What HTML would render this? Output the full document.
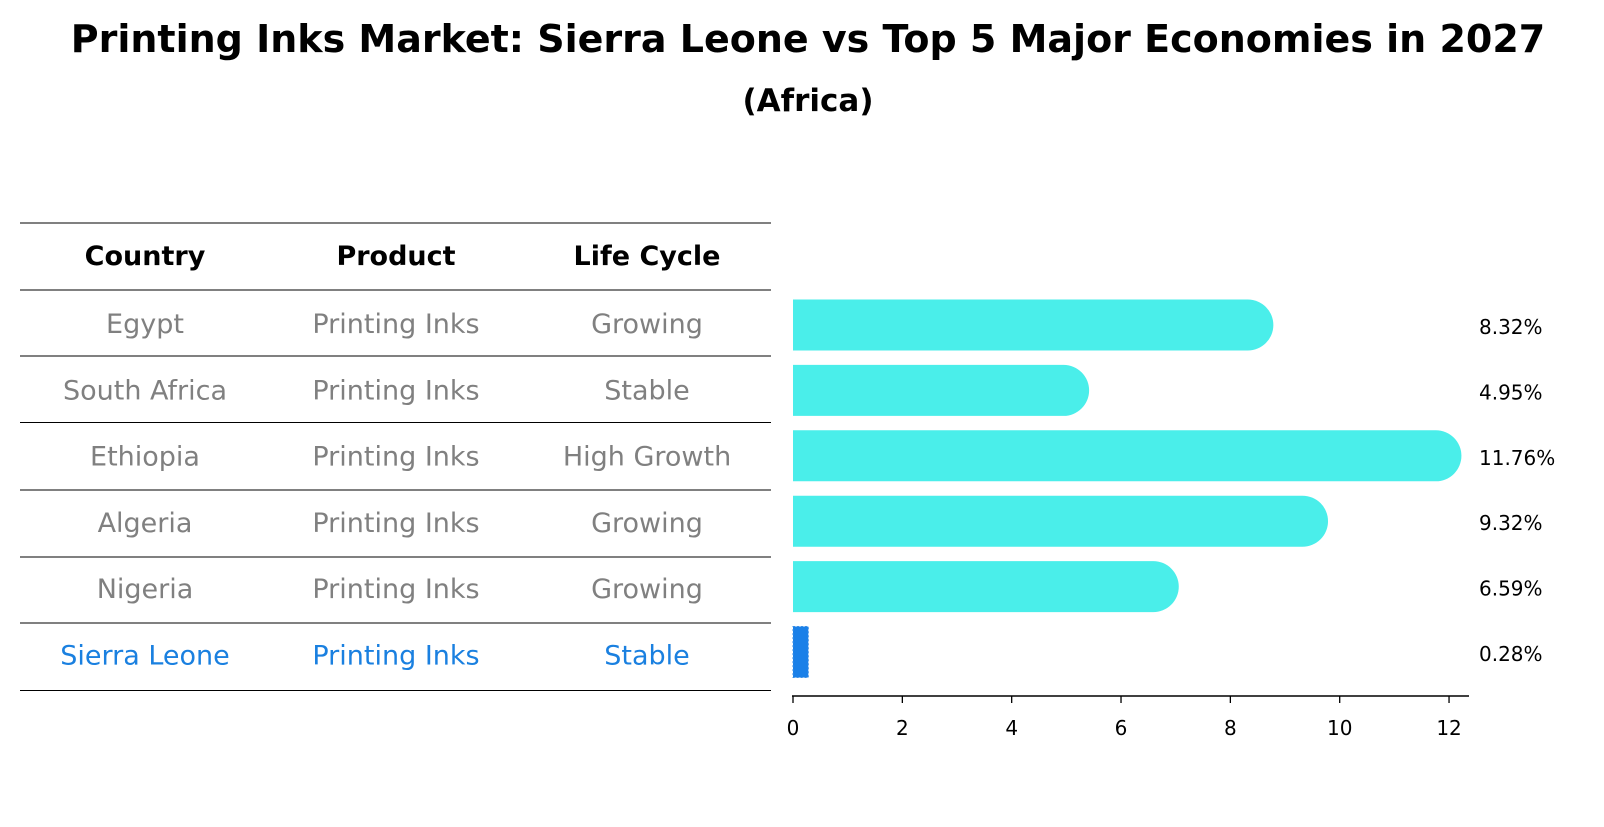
<!DOCTYPE html>
<html><head><meta charset="utf-8"><style>
body{margin:0;background:#fff;width:1604px;height:823px;overflow:hidden;font-family:"DejaVu Sans","Liberation Sans",sans-serif}
</style></head><body>
<svg id="c" width="1604" height="823" xmlns="http://www.w3.org/2000/svg" font-family="DejaVu Sans, Liberation Sans, sans-serif">
<text x="808" y="52" text-anchor="middle" font-size="38" font-weight="bold">Printing Inks Market: Sierra Leone vs Top 5 Major Economies in 2027</text>
<text x="808" y="111" text-anchor="middle" font-size="31" font-weight="bold">(Africa)</text>
<g id="tbl"></g>
<g id="bars"></g>
</svg>
<script>
const countries=["Egypt","South Africa","Ethiopia","Algeria","Nigeria","Sierra Leone"];
const products=["Printing Inks","Printing Inks","Printing Inks","Printing Inks","Printing Inks","Printing Inks"];
const lifecycle=["Growing","Stable","High Growth","Growing","Growing","Stable"];
const values=[8.32,4.95,11.76,9.32,6.59,0.28];
const ticks=[0,2,4,6,8,10,12];
const NS="http://www.w3.org/2000/svg";
function mk(t,a,p){const e=document.createElementNS(NS,t);for(const k in a)e.setAttribute(k,a[k]);p.appendChild(e);return e;}
const tbl=document.getElementById('tbl'),bars=document.getElementById('bars');
const x=v=>793+v*54.67;
const rowY=i=>323+i*66.3;
const barY=i=>325+i*65.4;
const colX=[145,396,647];
const hdr=["Country","Product","Life Cycle"];
hdr.forEach((h,j)=>{const t=mk('text',{x:colX[j],y:265,'text-anchor':'middle','font-size':27,'font-weight':'bold'},tbl);t.textContent=h;

});
const lines=[223,290,356,422.5,490,557,623,690.5];
lines.forEach((ly,k)=>{const l=mk('line',{x1:20,x2:771,y1:ly,y2:ly,stroke:'#000','stroke-width':1},tbl);

});
countries.forEach((c,i)=>{
  const col=i===countries.length-1?'#1a80e0':'#808080';
  [c,products[i],lifecycle[i]].forEach((s,j)=>{
    const t=mk('text',{x:colX[j],y:rowY(i)+10,'text-anchor':'middle','font-size':27,fill:col},tbl);t.textContent=s;
    
    
  });
  const y0=barY(i)-25.5,h=51;
  let b;
  if(i===countries.length-1){
    b=mk('rect',{x:793,y:y0,width:Math.max(x(values[i])-793,3),height:h,fill:'#1a80e8',stroke:'#3a8fe8','stroke-dasharray':'2 2'},bars);
  } else {
    const xe=x(values[i]);
    b=mk('path',{d:`M793 ${y0} H${xe} A25.5 25.5 0 0 1 ${xe} ${y0+h} H793 Z`,fill:'#4aeeea'},bars);
  }
  
  
  const vt=mk('text',{x:1479,y:barY(i)+9,'font-size':20},bars);vt.textContent=values[i].toFixed(2)+'%';
  
  
});
const ax=mk('line',{x1:792,x2:1469,y1:696,y2:696,stroke:'#000','stroke-width':1.5},bars);


ticks.forEach(t=>{
  const tl=mk('line',{x1:x(t),x2:x(t),y1:696,y2:703,stroke:'#000','stroke-width':1.3},bars);
  
  
  const tt=mk('text',{x:x(t),y:735,'text-anchor':'middle','font-size':20},bars);tt.textContent=t;
  
  
});
</script>
</body></html>
